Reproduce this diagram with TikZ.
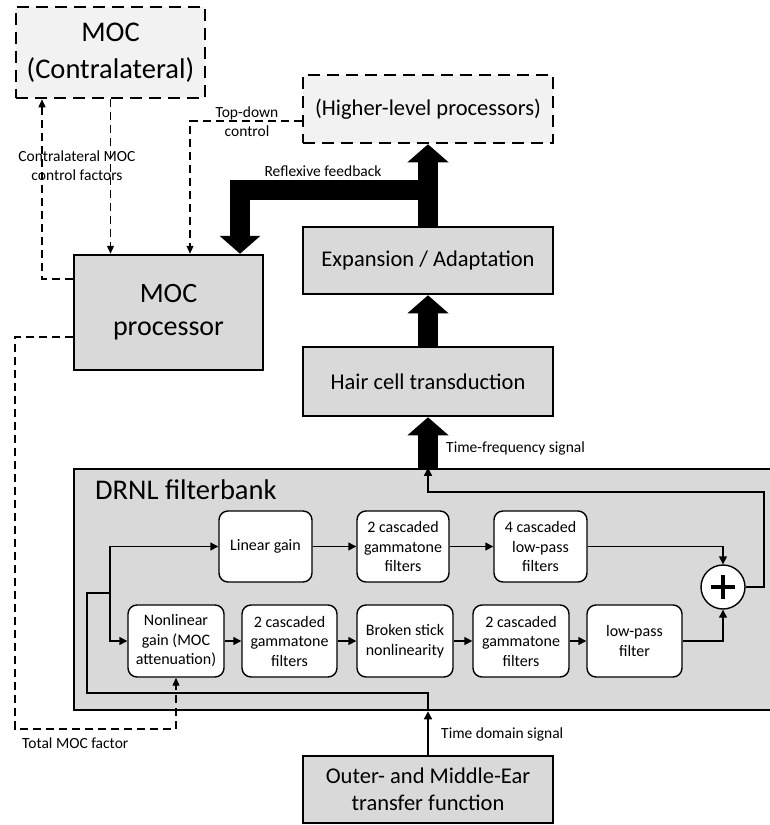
\documentclass[tikz,border=0pt]{standalone}
\usepackage{fontspec}
\setmainfont{Carlito}
\usepackage{tikz}
\usetikzlibrary{arrows.meta}
\definecolor{boxgray}{HTML}{D9D9D9}
\definecolor{palegray}{HTML}{F2F2F2}

\tikzset{
  bigbox/.style={draw, line width=2.5pt, fill=boxgray, inner sep=0pt, align=center},
  dashbox/.style={draw, line width=2.5pt, fill=palegray, dash pattern=on 12pt off 7pt, inner sep=0pt, align=center},
  filterbox/.style={draw, line width=1.4pt, fill=white, rounded corners=9pt, inner sep=0pt, align=center,
    minimum height=71pt, font=\fontsize{16}{19.5}\selectfont},
  sig/.style={line width=1.4pt},
  sigarrow/.style={line width=1.4pt, -{Triangle[length=8pt,width=8pt]}},
  ctrl/.style={line width=1.2pt, dash pattern=on 8pt off 5pt, -{Triangle[length=8pt,width=7pt]}},
  ctrlline/.style={line width=1.2pt, dash pattern=on 8pt off 5pt},
  fatarrow/.style={line width=20pt, -{Triangle[length=18pt,width=40pt]}},
  lbl/.style={font=\fontsize{15.5}{19}\selectfont, align=center, inner sep=0pt}
}

\begin{document}
\begin{tikzpicture}[x=1pt,y=-1pt]
\useasboundingbox (0,0) rectangle (769,825);

% upper blocks
\node[dashbox, minimum width=189pt, minimum height=91pt, font=\fontsize{28.5}{37}\selectfont] (contra) at (110.5,52.5) {MOC\\(Contralateral)};
\node[dashbox, minimum width=250pt, minimum height=68pt, font=\fontsize{22.5}{27}\selectfont] (higher) at (428,109) {(Higher-level processors)};
\node[bigbox, minimum width=250pt, minimum height=67pt, font=\fontsize{22.5}{27}\selectfont] (expand) at (428,260.5) {Expansion / Adaptation};
\node[bigbox, minimum width=189pt, minimum height=115pt, font=\fontsize{28}{33}\selectfont] (mocp) at (168.5,312.5) {MOC\\processor};
\node[bigbox, minimum width=250pt, minimum height=69pt, font=\fontsize{22.5}{27}\selectfont] (hair) at (428,381.5) {Hair cell transduction};

% DRNL filterbank
\node[bigbox, minimum width=701pt, minimum height=241pt] (drnl) at (424.5,589.5) {};
\node[anchor=west, inner sep=0pt, font=\fontsize{28.5}{33}\selectfont] (drnltitle) at (95,490) {DRNL filterbank};

\node[filterbox, minimum width=93pt] (lin) at (265.5,546.5) {Linear gain};
\node[filterbox, minimum width=92pt] (gt1) at (403,546.5) {2 cascaded\\gammatone\\filters};
\node[filterbox, minimum width=93pt] (lp4) at (540.5,546.5) {4 cascaded\\low-pass\\filters};

\node[filterbox, minimum width=96pt, minimum height=72pt] (nlg) at (176,641) {Nonlinear\\gain (MOC\\attenuation)};
\node[filterbox, minimum width=95pt, minimum height=72pt] (gt2) at (289.5,641) {2 cascaded\\gammatone\\filters};
\node[filterbox, minimum width=96pt, minimum height=72pt] (bst) at (405,641) {Broken stick\\nonlinearity};
\node[filterbox, minimum width=96pt, minimum height=72pt] (gt3) at (521,641) {2 cascaded\\gammatone\\filters};
\node[filterbox, minimum width=95pt, minimum height=72pt] (lpf) at (634.5,641) {low-pass\\filter};

\node[draw, circle, line width=1.4pt, fill=white, minimum size=44pt, inner sep=0pt] (sum) at (723,587) {};
\draw[line width=4pt] ([xshift=-12pt]sum.center) -- ([xshift=12pt]sum.center);
\draw[line width=4pt] ([yshift=-12pt]sum.center) -- ([yshift=12pt]sum.center);

\node[bigbox, minimum width=250pt, minimum height=67pt, font=\fontsize{22.5}{27}\selectfont] (ear) at (428,789.5) {Outer- and Middle-Ear\\transfer function};

% fat arrows
\draw[fatarrow] (expand.north) -- (higher.south);
\draw[fatarrow] (hair.north) -- (expand.south);
\draw[fatarrow] (hair.south |- drnl.north) -- (hair.south);
\coordinate (fb) at (428,190);
\draw[fatarrow] (fb) -| ([xshift=71.5pt]mocp.north);

% signal path
\coordinate (split) at (110,593);
\coordinate (ret) at (764,492);
\draw[sigarrow] (ear.north) -- (ear.north |- drnl.south);
\draw[sig] (ear.north |- drnl.south) |- (87,693) |- (split);
\draw[sigarrow] (split) |- (lin.west);
\draw[sigarrow] (split) |- (nlg.west);
\draw[sigarrow] (lin) -- (gt1);
\draw[sigarrow] (gt1) -- (lp4);
\draw[sigarrow] (nlg) -- (gt2);
\draw[sigarrow] (gt2) -- (bst);
\draw[sigarrow] (bst) -- (gt3);
\draw[sigarrow] (gt3) -- (lpf);
\draw[sigarrow] (lp4.east) -| (sum.north);
\draw[sigarrow] (lpf.east) -| (sum.south);
\draw[sigarrow] (sum.east) -| (ret) -| (hair.south |- drnl.north);

% control paths
\draw[ctrl] (contra.south) -- (contra.south |- mocp.north);
\draw[ctrl] ([yshift=33.5pt]mocp.west) -| ([xshift=-68.5pt]contra.south);
\draw[ctrl] ([yshift=-12pt]higher.west) -| ([xshift=21.5pt]mocp.north);
\draw[ctrl] ([yshift=-24.5pt]mocp.west) -| (15,729) -| (nlg.south);

% labels
\node[lbl] (contralbl) at (77,166) {Contralateral MOC\\control factors};
\node[lbl] (topdown) at (247,121.5) {Top-down\\control};
\node[lbl] (reflex) at (323,171) {Reflexive feedback};
\node[lbl, anchor=west] (tfsig) at (446,448) {Time-frequency signal};
\node[lbl, anchor=west] (tdsig) at (441,734) {Time domain signal};
\node[lbl, anchor=west] (totmoc) at (22,743) {Total MOC factor};
\end{tikzpicture}
\end{document}
